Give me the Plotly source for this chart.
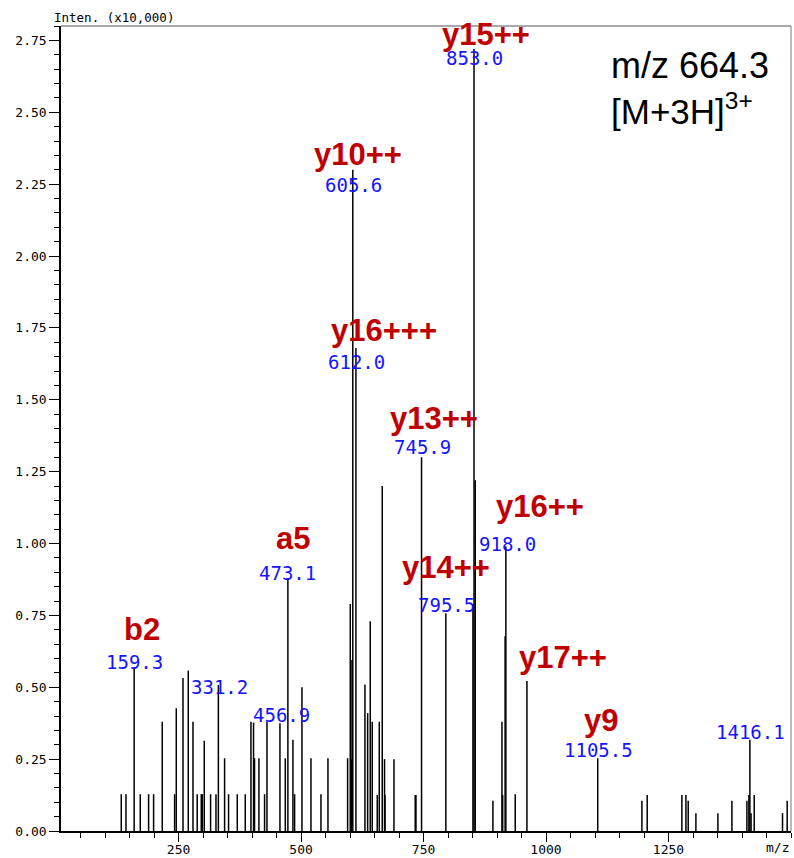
import plotly.graph_objects as go

# ---- data: peak m/z and intensity (x10,000) ----
peak_mz = [133.0, 142.6, 159.3, 171.8, 188.8, 199.0, 216.7, 241.9, 245.3, 259.0,
           269.8, 279.4, 288.0, 296.3, 298.4, 302.4, 315.3, 326.3, 331.2, 343.9,
           352.0, 369.8, 386.1, 397.7, 403.0, 405.0, 414.0, 425.5, 430.4, 456.9,
           467.8, 473.1, 483.4, 486.8, 501.8, 520.2, 540.6, 554.9, 595.0, 600.4,
           602.4, 603.9, 605.6, 612.0, 630.4, 635.9, 641.2, 645.3, 655.5, 659.6,
           665.7, 670.4, 671.4, 689.6, 733.0, 734.5, 745.9, 795.5, 850.8, 853.0,
           855.5, 891.6, 910.0, 911.5, 916.5, 918.0, 937.1, 961.0, 1105.5, 1195.7,
           1206.5, 1277.3, 1285.5, 1290.2, 1305.9, 1350.8, 1379.4, 1410.0, 1414.0, 1416.1,
           1418.5, 1424.9, 1482.7, 1492.2]
peak_int = [0.128, 0.128, 0.57, 0.128, 0.128, 0.128, 0.38, 0.128, 0.427, 0.532,
            0.558, 0.38, 0.128, 0.128, 0.128, 0.314, 0.128, 0.128, 0.508, 0.253,
            0.128, 0.128, 0.128, 0.38, 0.377, 0.253, 0.253, 0.128, 0.38, 0.375,
            0.253, 0.88, 0.317, 0.128, 0.50, 0.253, 0.128, 0.253, 0.253, 0.79,
            0.25, 0.595, 2.30, 1.68, 0.51, 0.41, 0.73, 0.38, 0.125, 0.38,
            1.20, 0.25, 0.125, 0.25, 0.125, 0.125, 1.30, 0.757, 0.79, 2.72,
            1.22, 0.105, 0.38, 0.125, 0.677, 0.99, 0.128, 0.522, 0.253, 0.105,
            0.125, 0.125, 0.125, 0.105, 0.062, 0.062, 0.105, 0.105, 0.125, 0.317,
            0.062, 0.125, 0.062, 0.105]

# blue m/z value labels: text, anchor m/z, anchor intensity
value_labels = ["853.0", "605.6", "612.0", "745.9", "918.0", "473.1", "795.5",
                "159.3", "331.2", "456.9", "1105.5", "1416.1"]
value_x = [853.5, 606.5, 612.6, 747.3, 920.8, 471.8, 796.3, 159.6, 333.0, 459.6, 1106.5, 1416.7]
value_y = [2.69, 2.246, 1.633, 1.334, 1.0, 0.898, 0.787, 0.589, 0.501, 0.404, 0.282, 0.345]

# red ion labels
ion_labels = ["y15++", "y10++", "y16+++", "y13++", "y16++", "a5", "y14++", "b2", "y17++", "y9"]
ion_x = [877, 616.7, 669.8, 770.8, 987, 484, 795.3, 174.9, 1034, 1112.7]
ion_y = [2.772, 2.354, 1.741, 1.435, 1.128, 1.017, 0.916, 0.70, 0.602, 0.386]

x_ticks = [250, 500, 750, 1000, 1250]

# build stick spectrum
xs, ys = [], []
for m, h in zip(peak_mz, peak_int):
    xs += [m, m, None]
    ys += [0, h, None]

fig = go.Figure()
fig.add_trace(go.Scatter(x=xs, y=ys, mode="lines",
                         line=dict(color="black", width=1.5),
                         hoverinfo="skip", showlegend=False))

mono = "DejaVu Sans Mono"
ann = []
for t, x, y in zip(value_labels, value_x, value_y):
    ann.append(dict(x=x, y=y, xref="x", yref="y", text=t, showarrow=False,
                    font=dict(family=mono, size=19, color="#1414ff"),
                    xanchor="center", yanchor="middle"))
for t, x, y in zip(ion_labels, ion_x, ion_y):
    ann.append(dict(x=x, y=y, xref="x", yref="y", text="<b>" + t + "</b>", showarrow=False,
                    font=dict(family="Liberation Sans", size=31, color="#c00000"),
                    xanchor="center", yanchor="middle"))

ann.append(dict(x=0.751, y=0.951, xref="paper", yref="paper", text="m/z 664.3",
                showarrow=False, xanchor="left", yanchor="middle",
                font=dict(family="Liberation Sans", size=36, color="black")))
ann.append(dict(x=0.751, y=0.897, xref="paper", yref="paper", text="[M+3H]<sup>3+</sup>",
                showarrow=False, xanchor="left", yanchor="middle",
                font=dict(family="Liberation Sans", size=35, color="black")))
ann.append(dict(x=-0.012, y=1.011, xref="paper", yref="paper", text="Inten. (x10,000)",
                showarrow=False, xanchor="left", yanchor="middle",
                font=dict(family=mono, size=12.5, color="black")))
ann.append(dict(x=1.0, y=-0.021, xref="paper", yref="paper", text="m/z",
                showarrow=False, xanchor="right", yanchor="middle",
                font=dict(family=mono, size=13, color="black")))

fig.update_layout(
    width=794, height=858,
    margin=dict(l=61, r=3, t=26, b=27, autoexpand=False),
    paper_bgcolor="white", plot_bgcolor="white",
    font=dict(family=mono, size=13, color="black"),
    annotations=ann,
    shapes=[
        dict(type="line", xref="paper", yref="paper", x0=0, x1=1, y0=1, y1=1,
             line=dict(color="#555555", width=1)),
        dict(type="line", xref="paper", yref="paper", x0=1, x1=1, y0=0, y1=1,
             line=dict(color="#777777", width=1)),
    ],
    xaxis=dict(range=[10, 1500], tickvals=x_ticks, ticktext=[str(v) for v in x_ticks],
               ticks="outside", ticklen=9, tickcolor="black", tickwidth=1,
               ticklabelstandoff=-3,
               minor=dict(dtick=50, tick0=0, ticks="outside", ticklen=5, tickcolor="black"),
               showline=True, linecolor="black", linewidth=1.5, automargin=False,
               showgrid=False, zeroline=False, tickfont=dict(family=mono, size=13)),
    yaxis=dict(range=[0, 2.80], dtick=0.25, tick0=0, tickformat=".2f",
               ticks="outside", ticklen=10, tickcolor="black", tickwidth=1,
               minor=dict(dtick=0.05, tick0=0, ticks="outside", ticklen=5, tickcolor="black"),
               showline=True, linecolor="black", linewidth=1.5, automargin=False,
               showgrid=False, zeroline=False, tickfont=dict(family=mono, size=13)),
)

# remove the default page margin so the figure fills the window exactly
fig.write_html("out.html", config={"displayModeBar": False},
               post_script="document.body.style.margin='0px';")
